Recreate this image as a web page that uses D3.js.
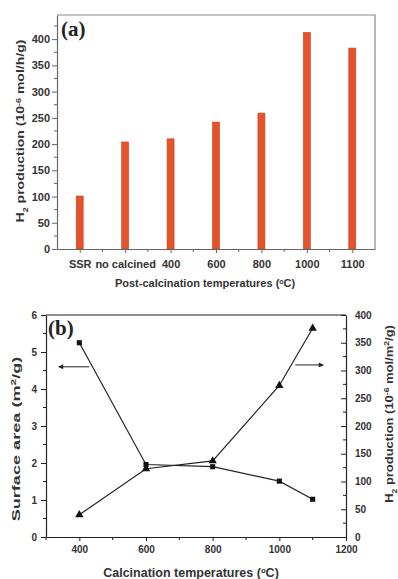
<!DOCTYPE html>
<html>
<head>
<meta charset="utf-8">
<script src="https://cdn.jsdelivr.net/npm/d3@7"></script>
<style>
  html, body { margin: 0; padding: 0; background: #fff; }
  svg { display: block; }
  text { font-family: "Liberation Sans", Arial, sans-serif; font-weight: bold; }
</style>
</head>
<body>
<svg id="fig" width="398" height="579"></svg>
<script>
// Panel (a): H2 production rate per sample
const samples = ["SSR", "no calcined", "400", "600", "800", "1000", "1100"];
const h2Rate = [101, 204, 210, 242, 259, 413, 383];           // 10^-6 mol/h/g
const rateTicks = [0, 50, 100, 150, 200, 250, 300, 350, 400];

// Panel (b): surface area and area-normalised H2 production
const calcTemps = [400, 600, 800, 1000, 1100];                 // °C
const surfaceArea = [5.25, 1.96, 1.90, 1.51, 1.02];            // m2/g
const h2PerArea = [40, 123, 137, 273, 376];                    // 10^-6 mol/m2/g
const tempTicks = [400, 600, 800, 1000, 1200];
const areaTicks = [0, 1, 2, 3, 4, 5, 6];
const perAreaTicks = [0, 50, 100, 150, 200, 250, 300, 350, 400];

const svg = d3.select("#fig");

// Stretch a rotated label along its own direction so it spans a given length
function fitAlong(sel, len) {
  const w = sel.node().getComputedTextLength();
  const cx = +sel.attr("data-x"), cy = +sel.attr("data-y");
  sel.attr("transform", `translate(${cx},${cy}) rotate(-90) scale(${len / w},1)`);
}

function styleAxis(g, color, size) {
  g.selectAll(".domain").attr("stroke", color).attr("stroke-width", 1.2);
  g.selectAll(".tick line").attr("stroke", color).attr("stroke-width", 1);
  g.selectAll(".tick text").attr("fill", "#333").style("font-size", size + "px")
    .style("font-family", "'Liberation Sans', Arial, sans-serif").style("font-weight", "bold");
}

function degLabel(g, x, y, size, pre) {
  const t = g.append("text").attr("x", x).attr("y", y).attr("text-anchor", "middle")
    .attr("fill", "#333").style("font-size", size + "px");
  t.append("tspan").text(pre + " (");
  t.append("tspan").attr("baseline-shift", "super").style("font-size", (size * 0.62) + "px").text("o");
  t.append("tspan").text("C)");
  return t;
}

/* ---------------- Panel (a) ---------------- */
{
  const L = 57, R = 375, T = 15, B = 249;
  const x = d3.scalePoint().domain(samples).range([L, R]).padding(0.5);
  const y = d3.scaleLinear().domain([0, 446]).range([B, T]);
  const axisCol = "#666";
  const g = svg.append("g");

  // frame top/right
  g.append("path").attr("d", `M${L},${T}H${R}V${B}`).attr("fill", "none")
    .attr("stroke", "#8a8a8a").attr("stroke-width", 1.2);

  // minor ticks
  const minorY = d3.range(25, 446, 50);
  g.selectAll(".myA").data(minorY).enter().append("line")
    .attr("x1", L - 3).attr("x2", L).attr("y1", d => y(d)).attr("y2", d => y(d))
    .attr("stroke", axisCol);
  const step = x.step();
  const minorX = samples.slice(0, -1).map(s => x(s) + step / 2);
  g.selectAll(".mxA").data(minorX).enter().append("line")
    .attr("x1", d => d).attr("x2", d => d).attr("y1", B).attr("y2", B + 3)
    .attr("stroke", axisCol);

  // bars
  const bw = 7;
  g.selectAll("rect.bar").data(samples).enter().append("rect").attr("class", "bar")
    .attr("x", d => x(d) - bw / 2).attr("width", bw)
    .attr("y", (d, i) => y(h2Rate[i])).attr("height", (d, i) => B - y(h2Rate[i]))
    .attr("fill", "#e4532b").attr("stroke", "#c9441f").attr("stroke-width", 0.6);

  const ya = g.append("g").attr("transform", `translate(${L},0)`)
    .call(d3.axisLeft(y).tickValues(rateTicks).tickSize(5).tickPadding(2).tickSizeOuter(0));
  styleAxis(ya, axisCol, 11);
  const xa = g.append("g").attr("transform", `translate(0,${B})`)
    .call(d3.axisBottom(x).tickSize(4).tickPadding(7).tickSizeOuter(0));
  styleAxis(xa, axisCol, 11);

  g.append("text").attr("x", 61).attr("y", 36).attr("fill", "#222")
    .style("font-family", "'Liberation Serif', 'Times New Roman', serif")
    .style("font-size", "21px").text("(a)");

  degLabel(g, 205, 287, 11, "Post-calcination temperatures");

  const yl = g.append("text").attr("data-x", 24).attr("data-y", 131)
    .attr("text-anchor", "middle").attr("fill", "#333").style("font-size", "11px");
  yl.append("tspan").text("H");
  yl.append("tspan").attr("baseline-shift", "sub").style("font-size", "7px").text("2");
  yl.append("tspan").text(" production (10");
  yl.append("tspan").attr("baseline-shift", "super").style("font-size", "7px").text("-6");
  yl.append("tspan").text(" mol/h/g)");
  fitAlong(yl, 183);
}

/* ---------------- Panel (b) ---------------- */
{
  const L = 46, R = 346, T = 315, B = 537;
  const x = d3.scaleLinear().domain([300, 1200]).range([L, R]);
  const yL = d3.scaleLinear().domain([0, 6]).range([B, T]);
  const yR = d3.scaleLinear().domain([0, 400]).range([B, T]);
  const axisCol = "#222";
  const fmt = d3.format("d");
  const g = svg.append("g");

  g.append("line").attr("x1", L).attr("x2", R).attr("y1", T).attr("y2", T)
    .attr("stroke", axisCol).attr("stroke-width", 1.2);

  // minor ticks
  g.selectAll(".myL").data(d3.range(0.5, 6, 1)).enter().append("line")
    .attr("x1", L - 3).attr("x2", L).attr("y1", d => yL(d)).attr("y2", d => yL(d)).attr("stroke", axisCol);
  g.selectAll(".myR").data(d3.range(25, 400, 50)).enter().append("line")
    .attr("x1", R - 3).attr("x2", R).attr("y1", d => yR(d)).attr("y2", d => yR(d)).attr("stroke", axisCol);
  g.selectAll(".mxB").data(d3.range(300, 1200, 200)).enter().append("line")
    .attr("x1", d => x(d)).attr("x2", d => x(d)).attr("y1", B).attr("y2", B + 3).attr("stroke", axisCol);

  const axL = g.append("g").attr("transform", `translate(${L},0)`)
    .call(d3.axisLeft(yL).tickValues(areaTicks).tickFormat(fmt).tickSize(5).tickPadding(4).tickSizeOuter(0));
  styleAxis(axL, axisCol, 10);
  const axR = g.append("g").attr("transform", `translate(${R},0)`)
    .call(d3.axisRight(yR).tickValues(perAreaTicks).tickFormat(fmt).tickSize(-5).tickPadding(9).tickSizeOuter(0));
  styleAxis(axR, axisCol, 10);
  const axB = g.append("g").attr("transform", `translate(0,${B})`)
    .call(d3.axisBottom(x).tickValues(tempTicks).tickFormat(fmt).tickSize(4).tickPadding(5).tickSizeOuter(0));
  styleAxis(axB, axisCol, 10);

  // series lines
  const lineL = d3.line().x((d, i) => x(calcTemps[i])).y(d => yL(d));
  const lineR = d3.line().x((d, i) => x(calcTemps[i])).y(d => yR(d));
  g.append("path").attr("d", lineL(surfaceArea)).attr("fill", "none")
    .attr("stroke", "#222").attr("stroke-width", 1.2);
  g.append("path").attr("d", lineR(h2PerArea)).attr("fill", "none")
    .attr("stroke", "#222").attr("stroke-width", 1.2);

  const sq = d3.symbol().type(d3.symbolSquare).size(26);
  const tri = d3.symbol().type(d3.symbolTriangle).size(30);
  g.selectAll(".sq").data(surfaceArea).enter().append("path")
    .attr("transform", (d, i) => `translate(${x(calcTemps[i])},${yL(d)})`)
    .attr("d", sq).attr("fill", "#111");
  g.selectAll(".tri").data(h2PerArea).enter().append("path")
    .attr("transform", (d, i) => `translate(${x(calcTemps[i])},${yR(d)})`)
    .attr("d", tri).attr("fill", "#111");

  // arrows pointing to each series' axis
  const defs = svg.append("defs");
  defs.append("marker").attr("id", "ah").attr("viewBox", "0 0 10 10")
    .attr("refX", 9).attr("refY", 5).attr("markerWidth", 6).attr("markerHeight", 5)
    .attr("orient", "auto").attr("markerUnits", "userSpaceOnUse")
    .append("path").attr("d", "M0,0L10,5L0,10z").attr("fill", "#222");
  g.append("line").attr("x1", x(430)).attr("x2", x(338)).attr("y1", yL(4.6)).attr("y2", yL(4.6))
    .attr("stroke", "#222").attr("stroke-width", 1).attr("marker-end", "url(#ah)");
  g.append("line").attr("x1", x(1048)).attr("x2", x(1132)).attr("y1", yR(310)).attr("y2", yR(310))
    .attr("stroke", "#222").attr("stroke-width", 1).attr("marker-end", "url(#ah)");

  g.append("text").attr("x", 48).attr("y", 335).attr("fill", "#222")
    .style("font-family", "'Liberation Serif', 'Times New Roman', serif")
    .style("font-size", "21px").text("(b)");

  degLabel(g, 191, 577, 12.5, "Calcination temperatures");

  const ll = g.append("text").attr("data-x", 20).attr("data-y", 439)
    .attr("text-anchor", "middle").attr("fill", "#333").style("font-size", "10.5px");
  ll.append("tspan").text("Surface area (m");
  ll.append("tspan").attr("baseline-shift", "super").style("font-size", "7px").text("2");
  ll.append("tspan").text("/g)");
  fitAlong(ll, 165);

  const rl = g.append("text").attr("data-x", 393).attr("data-y", 414)
    .attr("text-anchor", "middle").attr("fill", "#333").style("font-size", "10.5px");
  rl.append("tspan").text("H");
  rl.append("tspan").attr("baseline-shift", "sub").style("font-size", "7px").text("2");
  rl.append("tspan").text(" production (10");
  rl.append("tspan").attr("baseline-shift", "super").style("font-size", "7px").text("-6");
  rl.append("tspan").text(" mol/m");
  rl.append("tspan").attr("baseline-shift", "super").style("font-size", "7px").text("2");
  rl.append("tspan").text("/g)");
  fitAlong(rl, 178);
}
</script>
</body>
</html>
